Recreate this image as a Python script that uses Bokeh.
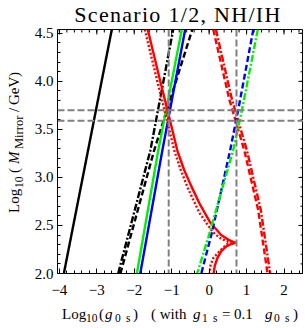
import numpy as np
from bokeh.plotting import figure
from bokeh.models import Range1d, LinearAxis, FixedTicker, Span, Div
from bokeh.layouts import column, row
from bokeh.embed import file_html
from bokeh.resources import INLINE

# ---------------- data ----------------
title_text = "Scenario 1/2, NH/IH"

x_ticks = [-4, -3, -2, -1, 0, 1, 2]
x_tick_labels = ["\u22124", "\u22123", "\u22122", "\u22121", "0", "1", "2"]
y_ticks = [2.0, 2.5, 3.0, 3.5, 4.0, 4.5]
y_tick_labels = ["2.0", "2.5", "3.0", "3.5", "4.0", "4.5"]

black_solid_x = [-3.88, -2.60]
black_solid_y = [2.0, 4.54]

black_dotdash_x = [-2.43, -1.57, -0.96]
black_dotdash_y = [2.0, 3.28, 4.54]

black_dashed_x = [-2.37, -1.47, -0.45]
black_dashed_y = [2.0, 3.28, 4.54]

green_solid_x = [-1.93, -1.36, -0.73]
green_solid_y = [2.0, 3.28, 4.54]

blue_solid_x = [-1.84, -1.25, -0.64]
blue_solid_y = [2.0, 3.28, 4.54]

red_solid_x = [-1.64, -1.31, -1.05, -0.85, -0.67, -0.49, -0.26, 0.03, 0.32, 0.52, 0.70,
               0.55, 0.45, 0.32, 0.22, 0.15, 0.12]
red_solid_y = [4.54, 4.01, 3.60, 3.28, 3.08, 2.92, 2.73, 2.53, 2.40, 2.35, 2.32,
               2.30, 2.28, 2.23, 2.16, 2.08, 2.0]

red_dotted_x = [-1.72, -1.39, -1.13, -0.93, -0.76, -0.57, -0.26, 0.10, 0.32, 0.52, 0.70,
                0.50, 0.38, 0.25, 0.11, 0.04, 0.01]
red_dotted_y = [4.54, 4.01, 3.60, 3.28, 3.08, 2.89, 2.63, 2.43, 2.36, 2.33, 2.32,
                2.31, 2.27, 2.22, 2.16, 2.09, 2.0]

red_dashed_x = [0.11, 0.54, 0.94, 1.31, 1.56]
red_dashed_y = [4.54, 3.81, 3.28, 2.66, 2.0]

red_dotdash_x = [0.18, 0.61, 1.01, 1.38, 1.63]
red_dotdash_y = [4.54, 3.81, 3.28, 2.66, 2.0]

blue_dashed_x = [1.18, 0.78, 0.56, 0.07, -0.21]
blue_dashed_y = [4.54, 3.71, 3.28, 2.42, 2.0]

green_dotdash_x = [1.30, 0.88, 0.64, -0.02, -0.32]
green_dotdash_y = [4.54, 3.71, 3.28, 2.38, 2.0]

grey_vertical = [-1.08, 0.73]
grey_horizontal = [3.70, 3.59]

# ---------------- layout constants (page pixels) ----------------
X0, X1 = -4.05, 2.52
Y0, Y1 = 2.0, 4.54
PAGE_L, PAGE_T = 0, 0           # bokeh's page template has no body margin
TITLE_H = 21                    # title strip height
YLAB_W = 30                     # y label strip width
FRAME_W, FRAME_H = 246, 244
BORDER_L, BORDER_B, BORDER_T = 27, 30, 8   # frame top at 21 + 8 = 29
PLOT_W = BORDER_L + FRAME_W
PLOT_H = BORDER_T + FRAME_H + BORDER_B
XLAB_H = 24
FONT = "'Liberation Serif', 'Times New Roman', serif"

p = figure(width=PLOT_W, height=PLOT_H, output_backend="svg", toolbar_location=None,
           x_range=Range1d(X0, X1), y_range=Range1d(Y0, Y1),
           min_border_left=BORDER_L, min_border_right=0, min_border_top=BORDER_T,
           min_border_bottom=BORDER_B,
           x_axis_location=None, y_axis_location=None)
p.background_fill_color = "white"
p.border_fill_color = None          # transparent, so the title's descenders stay visible
p.outline_line_color = "black"
p.outline_line_width = 1
p.xgrid.visible = False
p.ygrid.visible = False

x_minor = [round(v, 2) for v in np.arange(-4.0, 2.51, 0.2)]
y_minor = [round(v, 2) for v in np.arange(2.0, 4.55, 0.1)]


def style_axis(ax):
    ax.axis_line_color = None
    ax.major_tick_in = 5
    ax.major_tick_out = 0
    ax.minor_tick_in = 3
    ax.minor_tick_out = 0
    ax.major_tick_line_color = "black"
    ax.minor_tick_line_color = "black"
    ax.major_label_text_font = "Liberation Serif"
    ax.major_label_text_font_size = "15px"
    ax.major_label_text_color = "black"


xb = LinearAxis(ticker=FixedTicker(ticks=x_ticks, minor_ticks=x_minor),
                major_label_overrides={float(t): l for t, l in zip(x_ticks, x_tick_labels)})
style_axis(xb)
xb.major_label_standoff = 11
p.add_layout(xb, "below")

yl = LinearAxis(ticker=FixedTicker(ticks=y_ticks, minor_ticks=y_minor),
                major_label_overrides={float(t): l for t, l in zip(y_ticks, y_tick_labels)})
style_axis(yl)
yl.major_label_standoff = 4
p.add_layout(yl, "left")

# tick marks on the top and right frame edges (half of each dash is clipped by the frame)
p.scatter(x=x_ticks, y=[Y1] * len(x_ticks), marker="dash", angle=np.pi / 2, size=10,
          line_color="black", line_width=1)
p.scatter(x=x_minor, y=[Y1] * len(x_minor), marker="dash", angle=np.pi / 2, size=6,
          line_color="black", line_width=1)
p.scatter(x=[X1] * len(y_ticks), y=y_ticks, marker="dash", size=10,
          line_color="black", line_width=1)
p.scatter(x=[X1] * len(y_minor), y=y_minor, marker="dash", size=6,
          line_color="black", line_width=1)

LW = 2.4
RED, GREEN, BLUE = "#ff0000", "#00f000", "#0000ff"
p.line(black_solid_x, black_solid_y, line_color="black", line_width=LW)
p.line(black_dotdash_x, black_dotdash_y, line_color="black", line_width=LW, line_dash="7 2 2 2")
p.line(black_dashed_x, black_dashed_y, line_color="black", line_width=LW, line_dash="6 3")
p.line(green_solid_x, green_solid_y, line_color=GREEN, line_width=LW)
p.line(blue_solid_x, blue_solid_y, line_color=BLUE, line_width=LW)
p.line(red_solid_x, red_solid_y, line_color=RED, line_width=LW)
p.line(red_dotted_x, red_dotted_y, line_color=RED, line_width=LW, line_dash="2 2")
p.line(red_dashed_x, red_dashed_y, line_color=RED, line_width=LW, line_dash="6 3")
p.line(red_dotdash_x, red_dotdash_y, line_color=RED, line_width=LW, line_dash="7 2 2 2")
p.line(blue_dashed_x, blue_dashed_y, line_color=BLUE, line_width=LW, line_dash="6 3")
p.line(green_dotdash_x, green_dotdash_y, line_color=GREEN, line_width=LW, line_dash="7 2 2 2")

for v in grey_vertical:
    p.add_layout(Span(location=v, dimension="height", line_color="#808080",
                      line_width=2, line_dash="7 3"))
for h in grey_horizontal:
    p.add_layout(Span(location=h, dimension="width", line_color="#808080",
                      line_width=2, line_dash="7 3"))


# ---------------- text strips (HTML, absolutely positioned pieces) ----------------
def piece(txt, left, baseline, size, italic=False, extra=""):
    top = baseline - 0.8375 * size
    style = (f"position:absolute;left:{left:.1f}px;top:{top:.1f}px;font-size:{size}px;"
             f"line-height:{size}px;white-space:nowrap;"
             f"font-style:{'italic' if italic else 'normal'};{extra}")
    return f'<span style="{style}">{txt}</span>'


def box(w, h, inner):
    return (f'<div style="position:relative;width:{w}px;height:{h}px;overflow:visible;'
            f'font-family:{FONT};color:black;">{inner}</div>')


TOTAL_W = YLAB_W + PLOT_W

# title: centred over the frame, baseline at page y 22
frame_left_page = PAGE_L + YLAB_W + BORDER_L
title_inner = (f'<div style="position:absolute;left:{frame_left_page - PAGE_L - 2}px;top:{22 - PAGE_T - 18.4:.1f}px;'
               f'width:{FRAME_W}px;text-align:center;font-size:22px;line-height:22px;'
               f'letter-spacing:1.3px;white-space:nowrap;">{title_text}</div>')
title_div = Div(text=box(TOTAL_W, TITLE_H, title_inner), width=TOTAL_W, height=TITLE_H,
                margin=(0, 0, 0, 0))

# x label: Log10(g0 s) ( with g1 s=0.1 g0 s)
MAIN, SUB = 15, 11.5
xlab_top_page = PAGE_T + TITLE_H + PLOT_H
BL, SBL = 320 - xlab_top_page, 323 - xlab_top_page
xl_pieces = [
    ("Log", 62, BL, MAIN, False),
    ("10", 86, SBL, SUB, False),
    ("(", 99, BL, MAIN, False),
    ("g", 105, BL, MAIN, True),
    ("0", 115, SBL, SUB, False),
    ("s", 126, SBL, SUB, False),
    (")", 133, BL, MAIN, False),
    ("( with", 151, BL, MAIN, False),
    ("g", 193, BL, MAIN, True),
    ("1", 202, SBL, SUB, False),
    ("s", 213, SBL, SUB, False),
    ("=", 222, BL, MAIN, False),
    ("0.1", 234, BL, MAIN, False),
    ("g", 265, BL, MAIN, True),
    ("0", 274, SBL, SUB, False),
    ("s", 285, SBL, SUB, False),
    (")", 293, BL, MAIN, False),
]
xl_inner = "".join(piece(t, x - PAGE_L, b, s, it) for t, x, b, s, it in xl_pieces)
xlab_div = Div(text=box(TOTAL_W, XLAB_H, xl_inner), width=TOTAL_W, height=XLAB_H,
               margin=(0, 0, 0, 0))

# y label: Log10(M_Mirror/GeV), reading upwards, starting at page y 213, baseline at page x 20
row_top_page = PAGE_T + TITLE_H
yl_pieces = [           # (text, distance along the text from its start, baseline, size, italic)
    ("Log", 0, 12, MAIN, False),
    ("10", 25, 15.5, SUB, False),
    ("(", 40, 12, MAIN, False),
    ("M", 49, 12, MAIN, True),
    ("Mirror", 64, 15.5, 12.5, False),
    ("/", 101, 12, MAIN, False),
    ("GeV", 108, 12, MAIN, False),
    (")", 136, 12, MAIN, False),
]
yl_rot = "".join(piece(t, u, b, s, it) for t, u, b, s, it in yl_pieces)
yl_inner = (f'<div style="position:absolute;left:{20 - 12 - PAGE_L}px;top:{213 - row_top_page}px;'
            f'width:160px;height:24px;transform:rotate(-90deg);transform-origin:0 0;">{yl_rot}</div>')
ylab_div = Div(text=box(YLAB_W, PLOT_H, yl_inner), width=YLAB_W, height=PLOT_H,
               margin=(0, 0, 0, 0))

layout = column(title_div, row(ylab_div, p, spacing=0), xlab_div, spacing=0)

open("out.html", "w").write(file_html(layout, INLINE))
